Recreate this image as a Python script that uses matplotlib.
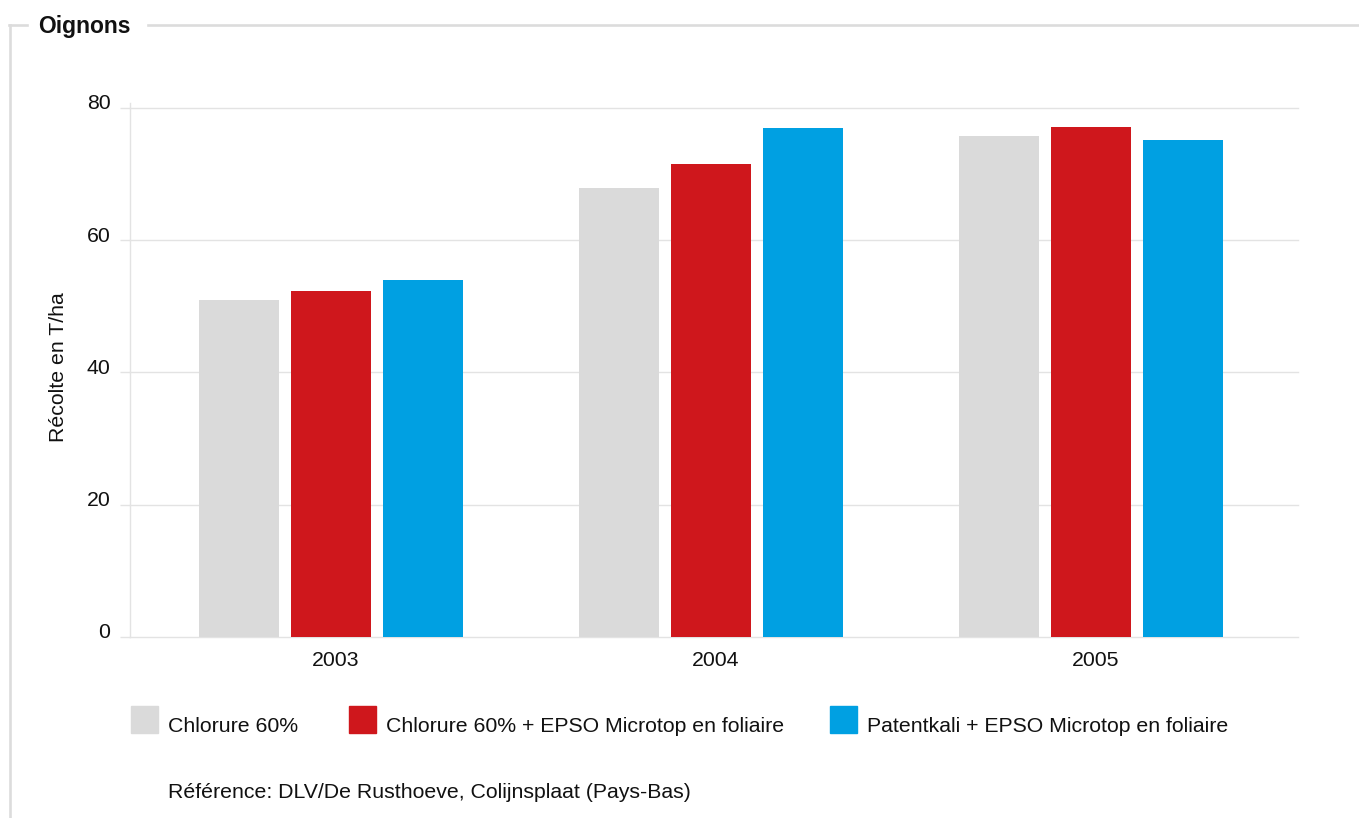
import matplotlib
matplotlib.use("Agg")
import matplotlib.pyplot as plt
import numpy as np
from matplotlib.patches import Rectangle
from matplotlib.lines import Line2D
from matplotlib.transforms import ScaledTranslation

plt.rcParams['font.family'] = ['Liberation Sans', 'DejaVu Sans']

years = ["2003", "2004", "2005"]
series_names = ["Chlorure 60%",
                "Chlorure 60% + EPSO Microtop en foliaire",
                "Patentkali + EPSO Microtop en foliaire"]
chlorure = [51.0, 67.9, 75.8]
chlorure_epso = [52.3, 71.5, 77.1]
patentkali_epso = [54.0, 77.0, 75.2]
colors = ["#dadada", "#cf171c", "#00a0e2"]
yticks = [0, 20, 40, 60, 80]

W, H = 1359, 818
fig = plt.figure(figsize=(W / 100, H / 100), dpi=100)

def fx(px):
    return px / W

def fy(py):
    return 1 - py / H

ax = fig.add_axes([fx(130), fy(637), fx(1298) - fx(130), fy(103) - fy(637)])

x = np.arange(len(years))
bw = 80 / 380
step = 92 / 380
for i, (vals, c) in enumerate(zip([chlorure, chlorure_epso, patentkali_epso], colors)):
    ax.bar(x + (i - 1) * step, vals, width=bw, color=c, zorder=3)

ax.set_xlim(-0.529, 2.545)
ax.set_ylim(0, 80.75)
ax.set_yticks(yticks)
ax.set_yticklabels([str(v) for v in yticks], fontsize=15.3)
ax.set_xticks(x)
ax.set_xticklabels(years, fontsize=15.3)
ax.grid(axis='y', color='#e3e3e3', linewidth=1, zorder=0)
for gl in ax.get_ygridlines():
    gl.set_clip_on(False)
for s in ['top', 'right', 'bottom']:
    ax.spines[s].set_visible(False)
ax.spines['left'].set_color('#e3e3e3')
ax.spines['left'].set_linewidth(1)
ax.tick_params(axis='y', length=7.2, width=1, color='#e3e3e3', pad=7, labelcolor='#111111')
ax.tick_params(axis='x', length=0, pad=10, labelcolor='#111111')
off = ScaledTranslation(0, 6 / 100, fig.dpi_scale_trans)
for lab in ax.get_yticklabels():
    lab.set_transform(lab.get_transform() + off)
offx = ScaledTranslation(5 / 100, 0, fig.dpi_scale_trans)
for lab in ax.get_xticklabels():
    lab.set_transform(lab.get_transform() + offx)
ax.set_ylabel("Récolte en T/ha", fontsize=15.3, color='#111111')
ax.yaxis.set_label_coords((68 - 130) / (1298 - 130), (637 - 367) / (637 - 103))

# frame lines
fc = '#dcdcdc'
fig.add_artist(Line2D([fx(10), fx(10)], [fy(25), 0], color=fc, linewidth=1.9))
fig.add_artist(Line2D([fx(9), fx(27)], [fy(25), fy(25)], color=fc, linewidth=1.9))
fig.add_artist(Line2D([fx(148), 1], [fy(25), fy(25)], color=fc, linewidth=1.9))
fig.text(fx(38), fy(27), "Oignons", fontsize=16.5, fontweight='bold', va='center', ha='left', color='#111111')

# legend
leg_x = [131, 349, 830]
for lx, name, c in zip(leg_x, series_names, colors):
    fig.add_artist(Rectangle((fx(lx), fy(733)), fx(27), fy(706) - fy(733), color=c,
                             transform=fig.transFigure))
    fig.text(fx(lx + 37), fy(726), name, fontsize=15.3, va='center', ha='left', color='#111111')

fig.text(fx(168), fy(793), "Référence: DLV/De Rusthoeve, Colijnsplaat (Pays-Bas)",
         fontsize=15.3, va='center', ha='left', color='#111111')

fig.savefig("out.png", dpi=100)
